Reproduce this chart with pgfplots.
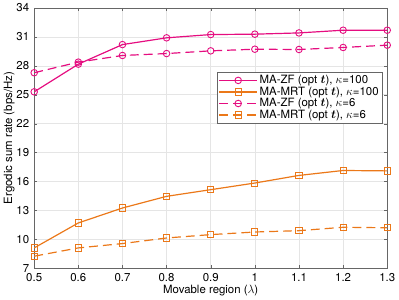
\documentclass[border=0pt]{standalone}
\usepackage{amsmath}
\usepackage{fontspec}
\setmainfont{TeX Gyre Heros}
\usepackage{pgfplots}
\pgfplotsset{compat=1.18}
\definecolor{zfc}{rgb}{0.90,0.05,0.50}
\definecolor{mrtc}{rgb}{0.92,0.47,0.10}
\begin{document}
\fontsize{11.5pt}{13pt}\selectfont
\begin{tikzpicture}[x=1bp,y=1bp]
\begin{axis}[
  scale only axis,
  width=354bp, height=261bp,
  xmin=0.5, xmax=1.3, ymin=7, ymax=34,
  xtick={0.5,0.6,...,1.3},
  xticklabels={0.5,0.6,0.7,0.8,0.9,1,1.1,1.2,1.3},
  ytick={7,10,13,16,19,22,25,28,31,34},
  /pgf/number format/assume math mode=true,
  tick label style={font=\fontsize{11.5pt}{13pt}\selectfont},
  label style={font=\fontsize{11.5pt}{13pt}\selectfont},
  xticklabel style={yshift=-1.5pt},
  yticklabel style={xshift=-1pt},
  xlabel={Movable region ($\lambda$)},
  ylabel={Ergodic sum rate (bps/Hz)},
  xlabel style={yshift=5pt},
  ylabel style={yshift=-6pt},
  grid=major,
  major grid style={gray!20, line width=0.5pt},
  axis line style={gray!80!black, line width=0.6pt},
  tick style={gray!80!black},
  tick align=inside,
  major tick length=3pt,
  legend style={at={(0.986,0.755)}, anchor=north east, draw=gray!80!black, fill=white, font=\fontsize{11.5pt}{13pt}\selectfont, inner sep=1.5pt, row sep=-2.5pt},
  legend cell align=left,
  legend image code/.code={\draw[mark repeat=2,mark phase=2,#1] plot coordinates {(0bp,0bp)(19bp,0bp)(38bp,0bp)};},
]
\addplot[zfc, line width=1.2pt, mark=o, mark size=3.3pt, mark options={solid, line width=0.9pt}] coordinates {
(0.5,25.3)(0.6,28.17)(0.7,30.2)(0.8,30.9)(0.9,31.24)(1.0,31.28)(1.1,31.41)(1.2,31.69)(1.3,31.69)};
\addlegendentry{MA-ZF (opt $\boldsymbol{t}$), $\kappa$=100}
\addplot[mrtc, line width=1.2pt, mark=square, mark size=3.1pt, mark options={solid, line width=0.9pt}] coordinates {
(0.5,9.11)(0.6,11.7)(0.7,13.25)(0.8,14.46)(0.9,15.15)(1.0,15.84)(1.1,16.63)(1.2,17.14)(1.3,17.1)};
\addlegendentry{MA-MRT (opt $\boldsymbol{t}$), $\kappa$=100}
\addplot[zfc, line width=1.2pt, dash pattern=on 9pt off 5pt, mark=o, mark size=3.3pt, mark options={solid, line width=0.9pt}] coordinates {
(0.5,27.28)(0.6,28.38)(0.7,29.07)(0.8,29.27)(0.9,29.55)(1.0,29.72)(1.1,29.69)(1.2,29.9)(1.3,30.14)};
\addlegendentry{MA-ZF (opt $\boldsymbol{t}$), $\kappa$=6}
\addplot[mrtc, line width=1.2pt, dash pattern=on 9pt off 5pt, mark=square, mark size=3.1pt, mark options={solid, line width=0.9pt}] coordinates {
(0.5,8.25)(0.6,9.11)(0.7,9.56)(0.8,10.14)(0.9,10.49)(1.0,10.76)(1.1,10.9)(1.2,11.25)(1.3,11.2)};
\addlegendentry{MA-MRT (opt $\boldsymbol{t}$), $\kappa$=6}
\end{axis}
\end{tikzpicture}
\end{document}
